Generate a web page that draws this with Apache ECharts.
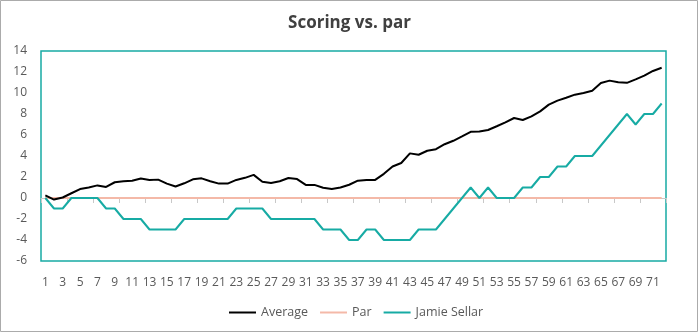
<!DOCTYPE html>
<html>
<head>
<meta charset="utf-8">
<script src="https://cdn.jsdelivr.net/npm/echarts@6/dist/echarts.min.js"></script>
<style>
  html, body { margin: 0; padding: 0; background: #fff; }
  #chart { width: 699px; height: 333px; }
</style>
</head>
<body>
<div id="chart"></div>
<script>
// Holes 1..72 across four rounds
const holes = Array.from({ length: 72 }, (_, i) => String(i + 1));

// Field average score relative to par, cumulative by hole
const average = [
  0.25, -0.15, 0.05, 0.45, 0.85, 1.0, 1.2, 1.05, 1.5, 1.6,
  1.65, 1.85, 1.72, 1.75, 1.37, 1.1, 1.4, 1.78, 1.87, 1.6,
  1.37, 1.37, 1.72, 1.92, 2.2, 1.55, 1.42, 1.6, 1.9, 1.8,
  1.25, 1.25, 0.98, 0.86, 1.0, 1.26, 1.65, 1.72, 1.72, 2.3,
  3.0, 3.33, 4.25, 4.12, 4.5, 4.65, 5.12, 5.45, 5.86, 6.3,
  6.33, 6.48, 6.83, 7.2, 7.62, 7.43, 7.78, 8.25, 8.89, 9.27,
  9.55, 9.84, 10.0, 10.22, 10.95, 11.18, 11.02, 10.97, 11.3, 11.65,
  12.1, 12.4
];

// Par reference line
const par = holes.map(() => 0);

// Jamie Sellar, cumulative score relative to par
const jamieSellar = [
  0, -1, -1, 0, 0, 0, 0, -1, -1, -2,
  -2, -2, -3, -3, -3, -3, -2, -2, -2, -2,
  -2, -2, -1, -1, -1, -1, -2, -2, -2, -2,
  -2, -2, -3, -3, -3, -4, -4, -3, -3, -4,
  -4, -4, -4, -3, -3, -3, -2, -1, 0, 1,
  0, 1, 0, 0, 0, 1, 1, 2, 2, 3,
  3, 4, 4, 4, 5, 6, 7, 8, 7, 8,
  8, 9
];

const TEAL = '#17ABA4';
const FONT = '"Open Sans", "Noto Sans", sans-serif';

const chart = echarts.init(document.getElementById('chart'), null, { renderer: 'canvas' });

chart.setOption({
  animation: false,
  backgroundColor: '#ffffff',
  textStyle: { fontFamily: FONT },
  title: {
    text: 'Scoring vs. par',
    left: 'center',
    top: 10,
    textStyle: { fontSize: 17, fontWeight: 'bold', color: '#404040', fontFamily: FONT }
  },
  graphic: [{
    type: 'rect',
    shape: { x: 0.5, y: 0.5, width: 697, height: 331 },
    style: { fill: 'none', stroke: '#ababab', lineWidth: 1 },
    silent: true,
    z: 100
  }],
  legend: {
    bottom: 9,
    left: 224,
    itemWidth: 27,
    itemHeight: 2,
    itemGap: 12,
    icon: 'rect',
    textStyle: { fontSize: 12.5, color: '#595959', fontFamily: FONT },
    data: ['Average', 'Par', 'Jamie Sellar']
  },
  grid: {
    left: 41,
    right: 33,
    top: 51,
    bottom: 72,
    show: true,
    borderColor: TEAL,
    borderWidth: 1.5,
    containLabel: false
  },
  xAxis: [
    {
      type: 'category',
      data: holes,
      position: 'bottom',
      axisLine: { show: false, onZero: false },
      axisTick: { show: false },
      axisLabel: { interval: 1, margin: 16, fontSize: 12, color: '#595959', fontFamily: FONT },
      splitLine: { show: false }
    },
    {
      type: 'category',
      data: holes,
      position: 'bottom',
      axisLine: { show: true, onZero: true, lineStyle: { color: '#c8c8c8', width: 1 } },
      axisTick: { show: true, length: 5, lineStyle: { color: '#c8c8c8' } },
      axisLabel: { show: false },
      splitLine: { show: false }
    }
  ],
  yAxis: {
    type: 'value',
    min: -6,
    max: 14,
    interval: 2,
    axisLine: { show: false },
    axisTick: { show: false },
    axisLabel: { margin: 14, fontSize: 12, color: '#595959', fontFamily: FONT },
    splitLine: { show: false }
  },
  series: [
    {
      name: 'Par',
      type: 'line',
      data: par,
      symbol: 'none',
      lineStyle: { color: '#F4B9A8', width: 2 },
      itemStyle: { color: '#F4B9A8' },
      z: 2
    },
    {
      name: 'Average',
      type: 'line',
      data: average,
      symbol: 'none',
      lineStyle: { color: '#000000', width: 2 },
      itemStyle: { color: '#000000' },
      z: 4
    },
    {
      name: 'Jamie Sellar',
      type: 'line',
      data: jamieSellar,
      symbol: 'none',
      lineStyle: { color: TEAL, width: 2 },
      itemStyle: { color: TEAL },
      z: 3
    }
  ]
});
</script>
</body>
</html>
